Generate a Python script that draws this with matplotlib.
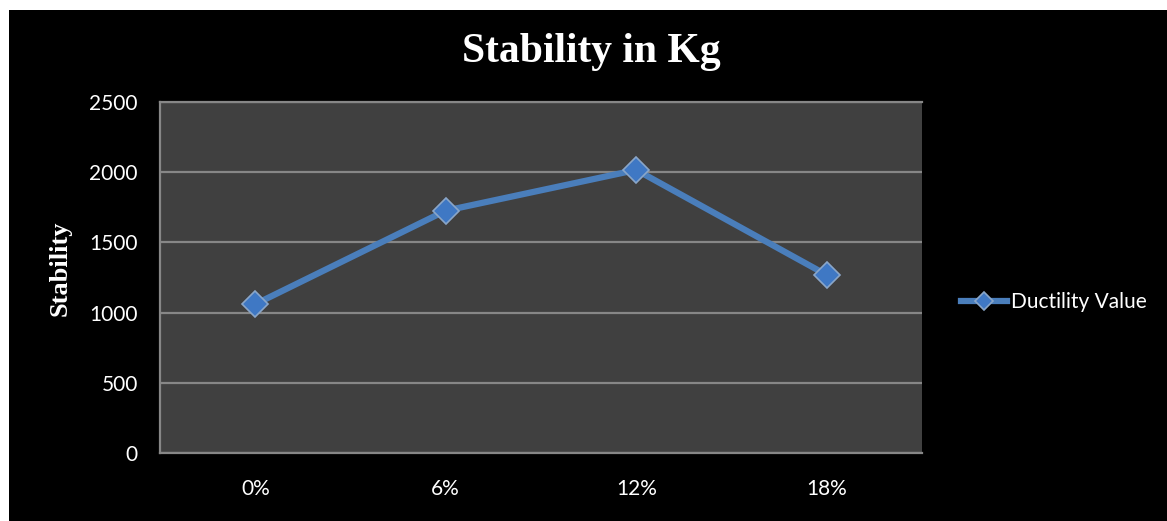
import matplotlib
matplotlib.use("Agg")
import matplotlib.pyplot as plt
from matplotlib.patches import Rectangle

categories = ["0%", "6%", "12%", "18%"]
values = [1060, 1726, 2016, 1268]
series_name = "Ductility Value"
yticks = [0, 500, 1000, 1500, 2000, 2500]

W, H = 1167, 521
fig = plt.figure(figsize=(W / 100, H / 100), dpi=100, facecolor="white")
# black chart area (white strip on top and left)
fig.patches.append(Rectangle((9 / W, 0), 1 - 9 / W, (H - 10) / H,
                             transform=fig.transFigure, facecolor="black",
                             edgecolor="none", zorder=-5))

ax = fig.add_axes([160 / W, (H - 453) / H, 762 / W, 351 / H])
ax.set_zorder(2)
ax.set_facecolor("#404040")
x = list(range(len(categories)))
ax.plot(x, values, color="#4a7ebb", lw=4.5, marker="D", markersize=13,
        markerfacecolor="#3f78c4", markeredgecolor="#8aa6c8",
        markeredgewidth=1.2, label=series_name, zorder=3, clip_on=False)
ax.set_xlim(-0.5, len(categories) - 0.5)
ax.set_ylim(0, 2500)
ax.set_yticks(yticks)
ax.set_xticks(x)
ax.set_xticklabels(categories)
ax.yaxis.grid(True, color="#878787", lw=1.6)
ax.set_axisbelow(True)
for s in ["right"]:
    ax.spines[s].set_visible(False)
for s in ["left", "bottom", "top"]:
    ax.spines[s].set_color("#878787")
    ax.spines[s].set_linewidth(1.6)
ax.tick_params(axis="both", length=0, colors="white", labelsize=15)
ax.tick_params(axis="y", pad=16)
ax.tick_params(axis="x", pad=19)
for lab in ax.get_xticklabels() + ax.get_yticklabels():
    lab.set_fontfamily("Lato")

fig.text(591 / W, 1 - 52 / H, "Stability in Kg", ha="center", va="center",
         color="white", fontsize=30, fontweight="bold",
         family="Liberation Serif")
fig.text(60 / W, 1 - 268 / H, "Stability", ha="center", va="center",
         rotation=90, color="white", fontsize=19, fontweight="bold",
         family="Liberation Serif")

leg = ax.legend(loc="center left", bbox_to_anchor=(951 / W, 1 - 302 / H),
                bbox_transform=fig.transFigure, frameon=False,
                handlelength=2.2, handletextpad=0.2, borderpad=0,
                markerscale=0.7,
                prop={"family": "Lato", "size": 15})
for t in leg.get_texts():
    t.set_color("white")

fig.savefig("out.png", dpi=100, facecolor="white")
